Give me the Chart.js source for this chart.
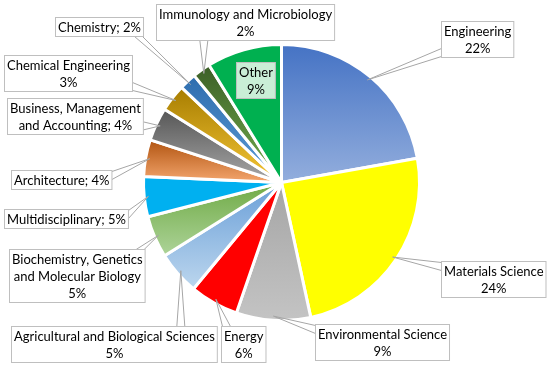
<!DOCTYPE html>
<html>
<head>
<meta charset="utf-8">
<script src="https://cdn.jsdelivr.net/npm/chart.js@4.4.1/dist/chart.umd.min.js"></script>
<style>
  html, body { margin: 0; padding: 0; background: #fff; }
  #wrap { width: 550px; height: 368px; position: relative; }
</style>
</head>
<body>
<div id="wrap"><canvas id="pieChart"></canvas></div>
<script>
const categories = ['Engineering', 'Materials Science', 'Environmental Science', 'Energy',
  'Agricultural and Biological Sciences', 'Biochemistry, Genetics and Molecular Biology',
  'Multidisciplinary', 'Architecture', 'Business, Management and Accounting',
  'Chemical Engineering', 'Chemistry', 'Immunology and Microbiology', 'Other'];
const shares = [22.2, 24.4, 8.7, 5.7, 5.1, 4.9, 4.7, 4.3, 3.9, 3.2, 2.0, 2.1, 8.8];

// how each callout joins name and value ('nl' = new line, 'semi' = "; ")
const labelJoin = ['nl', 'nl', 'nl', 'nl', 'nl', 'nl', 'semi', 'semi', 'semi', 'nl', 'semi', 'nl', 'nl'];
// where long names wrap inside their box
const nameWrap = {
  'Biochemistry, Genetics and Molecular Biology': ['Biochemistry, Genetics', 'and Molecular Biology'],
  'Business, Management and Accounting': ['Business, Management', 'and Accounting']
};

// gradient colours, top -> bottom of each slice
const topColors = ['#4472C4', '#FFFF00', '#A5A5A5', '#FF0000', '#6A9FD8', '#6FAA45', '#00B0F0',
  '#B0530F', '#555555', '#A67C00', '#2E6DAE', '#3B5E26', '#00B050'];
const bottomColors = ['#93AEDD', '#FFFF00', '#C4C4C4', '#FF0000', '#BDD7EE', '#AED49A', '#00B0F0',
  '#F4A66E', '#A8A8A8', '#F5C636', '#5B9BD5', '#74AE4E', '#00B050'];

// callout box centres (layout only)
const calloutPos = [[477, 39], [493, 279], [382, 342], [243, 344], [114, 344], [77, 275],
  [66, 218], [61, 179], [75, 116], [68, 73], [99, 26], [245, 22], [255, 80]];

const total = shares.reduce((a, b) => a + b, 0);

function labelLines(i) {
  const pct = Math.round(shares[i] / total * 100) + '%';
  const name = nameWrap[categories[i]] ? nameWrap[categories[i]].slice() : [categories[i]];
  if (labelJoin[i] === 'semi') {
    name[name.length - 1] += '; ' + pct;
    return name;
  }
  return name.concat([pct]);
}

function sliceFill(ctx) {
  const i = ctx.dataIndex;
  const chart = ctx.chart;
  const area = chart.chartArea;
  if (!area || i === undefined) return topColors[i] || '#ccc';
  if (topColors[i] === bottomColors[i]) return topColors[i];
  const cx = (area.left + area.right) / 2;
  const cy = (area.top + area.bottom) / 2;
  const r = Math.min(area.width, area.height) / 2;
  let before = 0;
  for (let k = 0; k < i; k++) before += shares[k];
  const a0 = -Math.PI / 2 + before / total * Math.PI * 2;
  const a1 = a0 + shares[i] / total * Math.PI * 2;
  let minY = cy, maxY = cy;
  for (let s = 0; s <= 40; s++) {
    const a = a0 + (a1 - a0) * s / 40;
    const y = cy + Math.sin(a) * r;
    minY = Math.min(minY, y);
    maxY = Math.max(maxY, y);
  }
  const g = chart.ctx.createLinearGradient(0, minY, 0, maxY);
  g.addColorStop(0, topColors[i]);
  g.addColorStop(1, bottomColors[i]);
  return g;
}

const FONT = '13px Lato';
const LINE_H = 17;

const callouts = {
  id: 'callouts',
  afterDatasetsDraw(chart) {
    const c = chart.ctx;
    const arcs = chart.getDatasetMeta(0).data;
    c.save();
    c.font = FONT;
    arcs.forEach((arc, i) => {
      const lines = labelLines(i);
      const w = Math.max(...lines.map(l => c.measureText(l).width)) + 5;
      const h = lines.length * LINE_H + 2;
      const [bx, by] = calloutPos[i];
      const x0 = Math.round(bx - w / 2) + 0.5, y0 = Math.round(by - h / 2) + 0.5;
      const x1 = x0 + w, y1 = y0 + h;
      const inside = categories[i] === 'Other';

      if (!inside) {
        const p = arc.getProps(['x', 'y', 'startAngle', 'endAngle', 'outerRadius'], true);
        const mid = (p.startAngle + p.endAngle) / 2;
        const px = p.x + Math.cos(mid) * p.outerRadius * 0.97;
        const py = p.y + Math.sin(mid) * p.outerRadius * 0.97;
        const qx = Math.min(Math.max(px, x0), x1);
        const qy = Math.min(Math.max(py, y0), y1);
        const horizEdge = Math.abs(py - qy) > Math.abs(px - qx);
        c.strokeStyle = '#A6A6A6';
        c.lineWidth = 1;
        c.beginPath();
        if (horizEdge) {
          const sx = Math.min(Math.max(qx, x0 + 5), x1 - 5);
          c.moveTo(px, py); c.lineTo(sx - 4, qy);
          c.moveTo(px, py); c.lineTo(sx + 4, qy);
        } else {
          const sy = Math.min(Math.max(qy, y0 + 5), y1 - 5);
          c.moveTo(px, py); c.lineTo(qx, sy - 4);
          c.moveTo(px, py); c.lineTo(qx, sy + 4);
        }
        c.stroke();
      }

      c.fillStyle = inside ? '#C9EED6' : '#FFFFFF';
      c.fillRect(x0, y0, w, h);
      c.strokeStyle = '#BFBFBF';
      c.lineWidth = 1;
      c.strokeRect(x0, y0, w, h);
      c.fillStyle = '#000';
      c.textAlign = 'center';
      c.textBaseline = 'middle';
      lines.forEach((l, k) => {
        c.fillText(l, (x0 + x1) / 2, y0 + 1 + LINE_H * (k + 0.5) + 1);
      });
    });
    c.restore();
  }
};

new Chart(document.getElementById('pieChart'), {
  type: 'pie',
  data: {
    labels: categories,
    datasets: [{
      data: shares,
      backgroundColor: sliceFill,
      borderColor: '#FFFFFF',
      borderWidth: 3
    }]
  },
  options: {
    responsive: true,
    maintainAspectRatio: false,
    animation: false,
    layout: { padding: { left: 142, right: 129, top: 43, bottom: 46 } },
    plugins: {
      legend: { display: false },
      tooltip: { enabled: false }
    },
    events: []
  },
  plugins: [callouts]
});
</script>
</body>
</html>
